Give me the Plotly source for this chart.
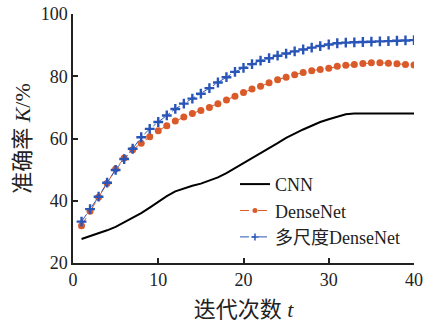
import plotly.graph_objects as go

epochs = list(range(1, 41))
cnn = [27.7, 28.6, 29.5, 30.5, 31.6, 33.0, 34.4, 36.0, 37.8, 39.7,
       41.5, 43.0, 44.0, 44.8, 45.5, 46.4, 47.5, 48.9, 50.5, 52.1,
       53.6, 55.1, 56.7, 58.5, 60.2, 61.6, 62.9, 64.1, 65.3, 66.2,
       67.1, 67.8, 68.0, 68.0, 68.1, 68.1, 68.0, 68.0, 68.0, 68.0]
densenet = [32.0, 36.6, 41.1, 45.6, 50.2, 53.7, 56.4, 58.5, 60.6, 62.5,
            64.1, 65.6, 66.9, 68.0, 69.0, 70.0, 71.2, 72.4, 73.6, 74.8,
            75.9, 76.8, 77.9, 78.9, 79.7, 80.5, 81.2, 81.8, 82.2, 82.6,
            83.2, 83.5, 83.8, 84.1, 84.3, 84.3, 84.2, 84.0, 83.8, 83.6]
ms_densenet = [33.3, 37.3, 41.3, 45.8, 49.9, 53.4, 56.7, 60.4, 63.1, 65.3,
               67.4, 69.5, 71.2, 72.8, 74.4, 76.2, 78.0, 79.7, 81.4, 82.7,
               83.9, 85.0, 85.8, 86.6, 87.3, 88.0, 88.6, 89.2, 89.7, 90.2,
               90.6, 90.8, 90.9, 91.0, 91.1, 91.2, 91.3, 91.4, 91.5, 91.6]
names = ["CNN", "DenseNet", "多尺度DenseNet"]
x_ticks = [0, 10, 20, 30, 40]
y_ticks = [20, 40, 60, 80, 100]

font_family = "'Liberation Serif', 'Times New Roman', 'Noto Sans CJK SC', serif"
orange = "#DA5A2A"
blue = "#2A55B8"

fig = go.Figure()
# data traces
fig.add_trace(go.Scatter(x=epochs, y=cnn, name=names[0], mode="lines", showlegend=False,
                         line=dict(color="black", width=2)))
fig.add_trace(go.Scatter(x=epochs, y=densenet, name=names[1], mode="lines+markers",
                         showlegend=False,
                         line=dict(color=orange, width=1, dash="dash"),
                         marker=dict(symbol="circle", size=7, color=orange)))
fig.add_trace(go.Scatter(x=epochs, y=ms_densenet, name=names[2], mode="lines+markers",
                         showlegend=False,
                         line=dict(color=blue, width=1, dash="dashdot"),
                         marker=dict(symbol="cross-thin", size=7,
                                     line=dict(color=blue, width=2.4), color=blue)))
# legend entries
fig.add_trace(go.Scatter(x=[None], y=[None], name=names[0], mode="lines",
                         line=dict(color="black", width=2)))
fig.add_trace(go.Scatter(x=[None], y=[None], name=names[1], mode="lines+markers",
                         line=dict(color=orange, width=1, dash="dash"),
                         marker=dict(symbol="circle", size=5, color=orange)))
fig.add_trace(go.Scatter(x=[None], y=[None], name=names[2], mode="lines+markers",
                         line=dict(color=blue, width=1, dash="dashdot"),
                         marker=dict(symbol="cross-thin", size=5,
                                     line=dict(color=blue, width=1.5), color=blue)))

fig.update_layout(
    width=425, height=322,
    margin=dict(l=73, r=11, t=14, b=59),
    paper_bgcolor="white", plot_bgcolor="white",
    font=dict(family=font_family, size=18, color="#222"),
    showlegend=True,
    legend=dict(x=0.475, y=0.39, xanchor="left", yanchor="top",
                bgcolor="rgba(0,0,0,0)", font=dict(size=18),
                tracegroupgap=0, itemwidth=30),
    xaxis=dict(range=[0, 40], tickvals=x_ticks, ticks="inside", ticklen=5,
               tickwidth=1.5, tickcolor="#222", showline=True, linecolor="#222",
               linewidth=1.5, showgrid=False, zeroline=False, automargin=False,
               tickfont=dict(family=font_family, size=18),
               title=dict(text="迭代次数 <i>t</i>", standoff=12)),
    yaxis=dict(range=[20, 100], tickvals=y_ticks, ticks="inside", ticklen=5,
               tickwidth=1.5, tickcolor="#222", showline=True, linecolor="#222",
               linewidth=1.5, showgrid=False, zeroline=False, automargin=False,
               tickfont=dict(family=font_family, size=18),
               title=dict(text="准确率 <i>K</i>/%", standoff=4)),
)

fig.write_html("out.html")
